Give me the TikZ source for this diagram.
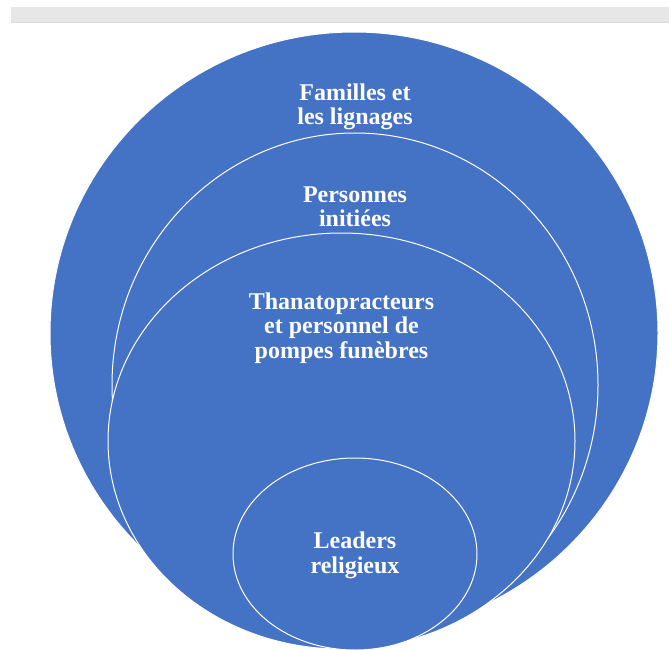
\documentclass[tikz,border=0pt]{standalone}
\usepackage{fontspec}
\setmainfont{Liberation Serif}
\definecolor{ringblue}{RGB}{68,114,196}
\definecolor{bargray}{RGB}{231,231,231}
\definecolor{baredge}{RGB}{218,218,218}
\begin{document}
\begin{tikzpicture}[x=1pt,y=-1pt,
  ring/.style={fill=ringblue, draw=white, line width=1pt},
  ringtext/.style={text=white, font=\fontsize{24}{24.5}\selectfont\bfseries, align=center, inner sep=0pt}]
\useasboundingbox (0,0) rectangle (669,650);
% top bar
\fill[bargray] (11,7) rectangle (669,22.5);
\draw[baredge, line width=0.6pt] (11,22.5) -- (669,22.5);
% nested ellipses
\draw[ring] (354,333) ellipse [x radius=304pt, y radius=301pt];
\draw[ring] (355,385) ellipse [x radius=243pt, y radius=252pt];
\draw[ring] (341.5,441) ellipse [x radius=233.5pt, y radius=208pt];
\draw[ring] (355,554) ellipse [x radius=122pt, y radius=96pt];
% labels
\node[ringtext] (familles) at (355,107) {Familles et\\les lignages};
\node[ringtext] (initiees) at (355,207) {Personnes\\initiées};
\node[ringtext] (thanato) at (341.5,328) {Thanatopracteurs\\et personnel de\\pompes funèbres};
\node[ringtext] (leaders) at (355,555.5) {Leaders\\religieux};
\end{tikzpicture}
\end{document}
